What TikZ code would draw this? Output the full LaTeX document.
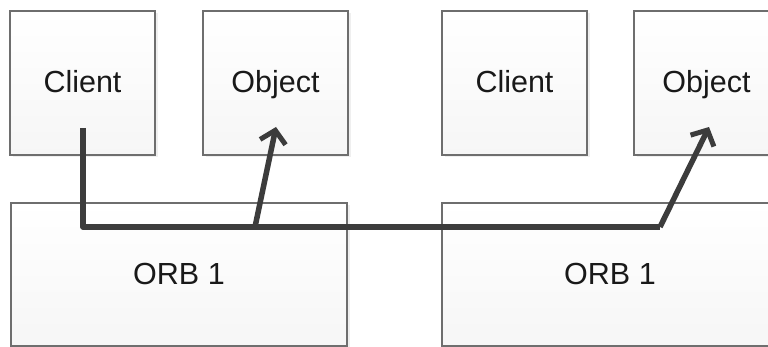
\documentclass[tikz,border=0pt]{standalone}
\usepackage{fontspec}
\setmainfont{Liberation Sans}
\usetikzlibrary{arrows.meta, shadows}

\definecolor{boxline}{HTML}{6E6E6E}
\definecolor{callline}{HTML}{3C3C3C}

\begin{document}
\begin{tikzpicture}[x=1pt, y=-1pt,
      box/.style={draw=boxline, line width=1.4pt, top color=white, bottom color=gray!7,
        drop shadow={shadow xshift=2.5pt, shadow yshift=-2.5pt, fill=gray!25},
        font=\fontsize{30.5}{36}\selectfont, text=black!90, inner sep=0pt,
        text height=24pt, text depth=4pt},
      small/.style={box, minimum width=145pt, minimum height=144pt},
      orb/.style={box, minimum width=336pt, minimum height=143pt},
      call/.style={draw=callline, line width=5.5pt, line join=round,
        -{Straight Barb[length=12pt, width=26pt, line width=5pt]}}]
      \useasboundingbox (0,0) rectangle (768,347);
      \clip (0,0) rectangle (768,347);
      % upper row
      \node[small] (client1) at (82.5,83) {Client};
      \node[small] (object1) at (275.5,83) {Object};
      \node[small] (client2) at (514.5,83) {Client};
      \node[small] (object2) at (706.5,83) {Object};
      % lower row
      \node[orb] (orb1) at (179,274.5) {ORB 1};
      \node[orb] (orb2) at (610,274.5) {ORB 1};
      % call path
      \coordinate (foot) at (83,128);
      \coordinate (fork) at (255,227);
      \coordinate (bend) at (660,227);
      \coordinate (tip1) at (276,127);
      \coordinate (tip2) at (709,127);
      \draw[call, -] (foot) |- (bend);
      \draw[call] (fork) -- (tip1);
      \draw[call] (bend) -- (tip2);
    \end{tikzpicture}
\end{document}
